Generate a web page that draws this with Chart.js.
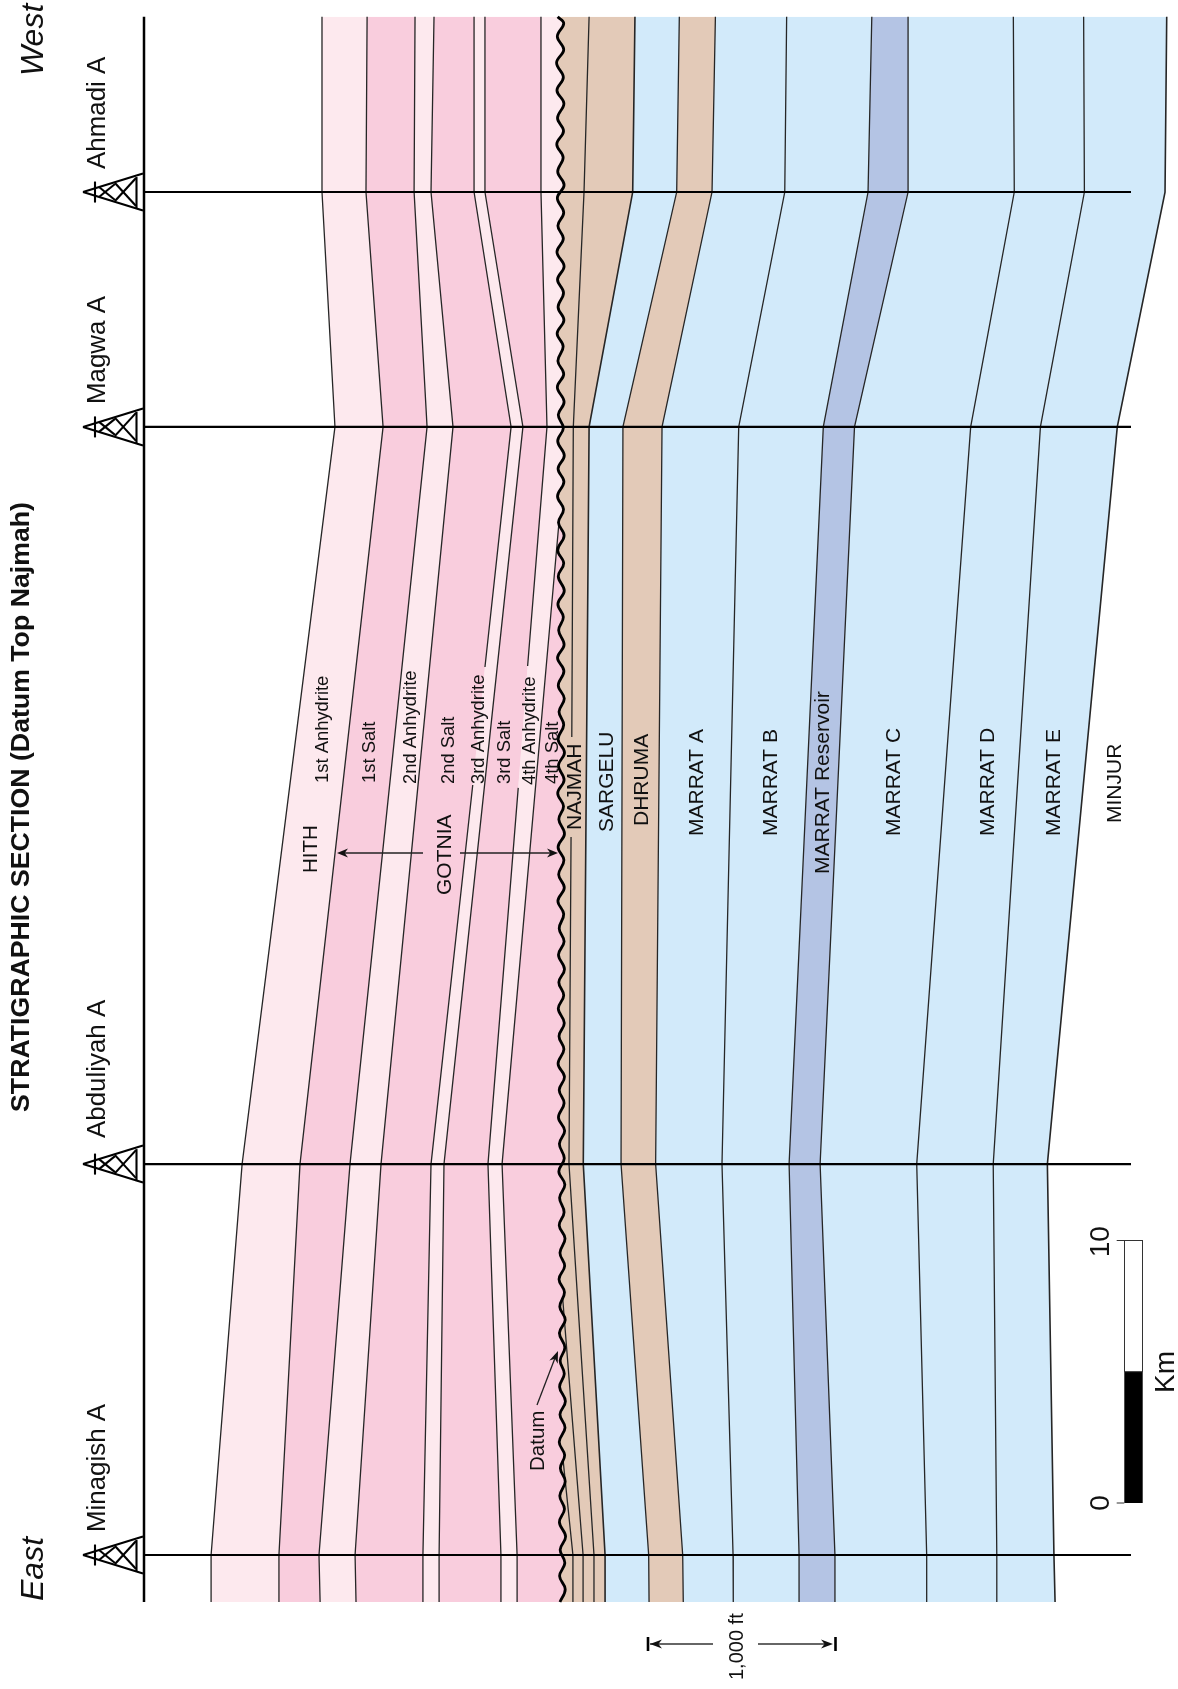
<!DOCTYPE html>
<html><head><meta charset="utf-8">
<style>html,body{margin:0;padding:0;background:#fff}canvas{display:block}</style>
<script src="https://cdn.jsdelivr.net/npm/chart.js@4"></script>
</head><body><canvas id="c" width="1178" height="1689"></canvas>
<script>
// distance along section in km from Minagish A (upward in picture = west); depth in ft below the Top Najmah datum
const STATIONS_KM=[-1.79,0,14.88,42.94,51.88,58.55];
const WELL_KM=[0,14.88,42.94,51.88];
const H1=[-1851,-1851,-1686,-1192,-1261,-1261];
const H2=[-1490,-1490,-1378,-936,-1027,-1021];
const H3=[-1271,-1277,-1112,-702,-771,-766];
const H4=[-1080,-1085,-947,-564,-681,-665];
const H5_KM=[-1.79,0,14.88,29.31,33.80,42.94,51.88,58.55];
const H5=[-724,-724,-681,-459,-394,-255,-452,-452];
const H6=[-638,-638,-612,-192,-394,-394];
const H7_KM=[-1.79,0,14.88,29.2,33.84,42.94,51.88,58.55];
const H7=[-309,-309,-378,-217,-167,-64,-96,-96];
const H8_KM=[-1.79,0,14.88,39.32];
const H8=[-223,-223,-303,0];
const W_KM=[-1.79,-1.3,-0.8,-0.3,0.2,0.7,1.25,1.75,2.25,2.8,3.3,3.8,4.3,4.85,5.35,5.85,6.4,6.9,7.4,7.9,8.45,8.95,9.45,10,10.5,11,11.5,12.05,12.55,13.05,13.6,14.1,14.6,15.1,15.65,16.15,16.65,17.2,17.7,18.2,18.7,19.25,19.75,20.25,20.8,21.3,21.8,22.3,22.85,23.35,23.85,24.4,24.9,25.4,25.9,26.45,26.95,27.45,28,28.5,29,29.5,30.05,30.55,31.05,31.6,32.1,32.6,33.1,33.65,34.15,34.65,35.2,35.7,36.2,36.7,37.25,37.75,38.25,38.8,39.3,39.8,40.3,40.85,41.35,41.85,42.4,42.9,43.4,43.9,44.45,44.95,45.45,46,46.5,47,47.5,48.05,48.55,49.05,49.6,50.1,50.6,51.1,51.65,52.15,52.65,53.2,53.7,54.2,54.7,55.25,55.75,56.25,56.8,57.3,57.8,58.3,58.55];
const W_FT=[5,33,3,31,6,35,2,29,4,33,7,30,1,32,5,34,3,28,6,31,2,33,4,29,0,30,5,32,1,27,3,31,-1,28,2,30,-3,27,1,29,-5,26,0,28,-4,25,-1,29,-3,27,1,25,-6,28,-2,26,-5,29,-1,24,-7,27,-3,29,-5,25,0,28,-4,26,-8,27,-2,23,-6,28,-4,25,-7,27,-3,24,-8,26,-5,28,-7,23,-4,27,-9,25,-6,22,-10,26,-5,24,-8,27,-11,23,-6,25,-9,27,-7,22,-12,24,-8,26,-11,23,-13,25,-9,25,-7];
const N1_KM=[-1.79,0,4.0];const N1=[74,74,16];
const N2_KM=[-1.79,0,10.09];const N2=[128,128,16];
const N3_KM=[-1.79,0,14.88,27.33,31.14,42.94,51.88,58.55];
const N3=[186,186,53,64,68,76,133,160];
const T1=[245,245,129,160,392,404];
const D1=[479,477,330,340,626,640];
const D2=[661,658,514,548,814,832];
const M1=[927,926,867,956,1201,1211];
const R1=[1277,1277,1224,1406,1644,1664];
const R2=[1468,1468,1389,1572,1857,1857];
const M2=[1956,1956,1903,2190,2422,2417];
const M3=[2329,2329,2310,2561,2795,2791];
const M4=[2639,2633,2598,2970,3224,3233];
const UNIT_LABELS=[
 ["HITH",317,873,20.5],["1st Anhydrite",328,783,18.4],["1st Salt",375,783,18.4],["2nd Anhydrite",415.7,784,18.4],
 ["2nd Salt",454,784,18.4],["3rd Anhydrite",484,784,18.4],["3rd Salt",510,784,18.4],["4th Anhydrite",535,785,18.4],
 ["4th Salt",557.6,784,18.4],["GOTNIA",451,895,21],["NAJMAH",581,830,21],["SARGELU",612.7,832,21],
 ["DHRUMA",647.7,826,21],["MARRAT A",703,836,21],["MARRAT B",777,836,21],["MARRAT Reservoir",829,874,21],
 ["MARRAT C",900,836,21],["MARRAT D",994,836,21],["MARRAT E",1060,836,21],["MINJUR",1121,823,21]];
const WELL_TEXT=[["Minagish A",1532],["Abduliyah A",1138],["Magwa A",404],["Ahmadi A",169]];

const PALE='#fde9ee',PINK='#f9cddd',TAN='#e3cab8',BLUE='#d2eafa',PERI='#b4c4e4',LINE='#262626';
function mk(km,ft,fill,bg,o){return Object.assign({data:ft.map((v,i)=>({x:v,y:km[i]})).reverse(),borderColor:LINE,borderWidth:1.3,
  fill:fill===undefined?false:fill,backgroundColor:bg||'transparent',pointRadius:0,tension:0},o||{});}
function gap(i){return {segment:{borderColor:c=>c.p0DataIndex===i?'rgba(0,0,0,0)':undefined}};}
const S=STATIONS_KM;
const datasets=[
 mk(S,H1),mk(S,H2,'-1',PALE),mk(S,H3,'-1',PINK),mk(S,H4,'-1',PALE),
 mk(H5_KM,H5,'-1',PINK,gap(3)),mk(S,H6,'-1',PALE),mk(H7_KM,H7,'-1',PINK,gap(3)),
 mk(H8_KM,H8,8,PINK),
 mk(W_KM,W_FT,6,PALE,{borderWidth:0}),
 mk(N1_KM,N1),mk(N2_KM,N2),mk(N3_KM,N3,false,undefined,gap(3)),
 mk(S,T1,8,TAN,{borderWidth:1.6}),mk(S,D1,'-1',BLUE),mk(S,D2,'-1',TAN),mk(S,M1,'-1',BLUE),
 mk(S,R1,'-1',BLUE),mk(S,R2,'-1',PERI),mk(S,M2,'-1',BLUE),mk(S,M3,'-1',BLUE),mk(S,M4,'-1',BLUE,{borderWidth:1.6}),
 mk(W_KM,W_FT,false,undefined,{borderColor:'#000',borderWidth:2.8,tension:0.4,order:-1})
];
datasets[8].tension=0.4;
function vtext(ctx,t,x,y,font,align){ctx.save();ctx.translate(x,y);ctx.rotate(-Math.PI/2);ctx.font=font;ctx.textAlign=align||'left';ctx.textBaseline='alphabetic';ctx.fillStyle='#111';ctx.fillText(t,0,0);ctx.restore();}
function seg(ctx,x1,y1,x2,y2,w,c){ctx.strokeStyle=c||'#000';ctx.lineWidth=w;ctx.beginPath();ctx.moveTo(x1,y1);ctx.lineTo(x2,y2);ctx.stroke();}
function head(ctx,tx,ty,dx,dy,len,hw){const px=-dy,py=dx;ctx.fillStyle='#111';ctx.beginPath();ctx.moveTo(tx,ty);
  ctx.lineTo(tx-dx*len+px*hw,ty-dy*len+py*hw);ctx.lineTo(tx-dx*len*0.7,ty-dy*len*0.7);ctx.lineTo(tx-dx*len-px*hw,ty-dy*len-py*hw);ctx.closePath();ctx.fill();}
const deco={id:'deco',afterDatasetsDraw(ch){
  const ctx=ch.ctx,Y=ch.scales.y;ctx.save();ctx.lineCap='butt';
  const F='"Liberation Sans",Arial,sans-serif';
  const xAxis=144,yTop=Y.getPixelForValue(58.55),yBot=Y.getPixelForValue(-1.79),xEnd=1131;
  seg(ctx,xAxis,yTop,xAxis,yBot,2.5);
  WELL_KM.forEach(k=>{const y=Y.getPixelForValue(k);
    seg(ctx,xAxis,y,xEnd,y,2.1);
    const w=2.1;
    seg(ctx,83,y,143,y-18.5,w);seg(ctx,83,y,143,y+18.5,w);
    seg(ctx,95,y-10.5,95,y+10.5,w);seg(ctx,136.5,y-15,136.5,y+17,w);
    seg(ctx,99,y-5,115,y+8,w);seg(ctx,99,y+5,115,y-8,w);
    seg(ctx,115,y-9,136,y+14,w);seg(ctx,115,y+9,136,y-14,w);
  });
  WELL_TEXT.forEach(a=>vtext(ctx,a[0],105,a[1],'25.9px '+F));
  vtext(ctx,'West',43,76,'italic 32px '+F);vtext(ctx,'East',43,1601,'italic 32px '+F);
  vtext(ctx,'STRATIGRAPHIC SECTION (Datum Top Najmah)',29,807,'bold 26.7px '+F,'center');
  UNIT_LABELS.forEach(a=>vtext(ctx,a[0],a[1],a[2],a[3]+'px '+F));
  // GOTNIA arrows
  const ya=853;seg(ctx,344,ya,423,ya,1.3,'#222');head(ctx,337,ya,-1,0,11,4.5);
  seg(ctx,460,ya,552,ya,1.3,'#222');head(ctx,558,ya,1,0,11,4.5);
  // Datum
  vtext(ctx,'Datum',544,1471,'20.5px '+F);
  seg(ctx,537,1405,555,1358,1.3,'#222');head(ctx,558,1351,0.37,-0.93,12,4.5);
  // 1,000 ft
  const yb=1644;seg(ctx,650,yb,713,yb,1.6,'#333');seg(ctx,758,yb,830,yb,1.6,'#333');
  seg(ctx,648,yb-7,648,yb+7,2.6);seg(ctx,835.5,yb-7,835.5,yb+7,2.6);
  head(ctx,650,yb,-1,0,12,4.5);head(ctx,833,yb,1,0,12,4.5);
  vtext(ctx,'1,000 ft',743,1680,'20px '+F);
  // km bar
  ctx.fillStyle='#000';ctx.fillRect(1124.3,1371.7,18.4,131.3);
  ctx.strokeStyle='#333';ctx.lineWidth=1;ctx.strokeRect(1124.5,1240.5,18,131.2);
  seg(ctx,1116.7,1240.5,1124.3,1240.5,1,'#333');seg(ctx,1116.7,1503,1124.3,1503,1,'#333');
  vtext(ctx,'10',1109,1241.7,'28px '+F,'center');vtext(ctx,'0',1109,1503,'28px '+F,'center');
  vtext(ctx,'Km',1174,1393,'28px '+F);
  ctx.restore();
}};
new Chart(document.getElementById('c'),{type:'line',data:{datasets},plugins:[deco],options:{
  indexAxis:'y',responsive:false,animation:false,devicePixelRatio:1,layout:{padding:0},
  plugins:{legend:{display:false},tooltip:{enabled:false},title:{display:false},filler:{propagate:false}},
  scales:{x:{type:'linear',display:false,min:-2974,max:3293},y:{type:'linear',display:false,min:-5.10,max:59.19}}
}});
</script></body></html>
